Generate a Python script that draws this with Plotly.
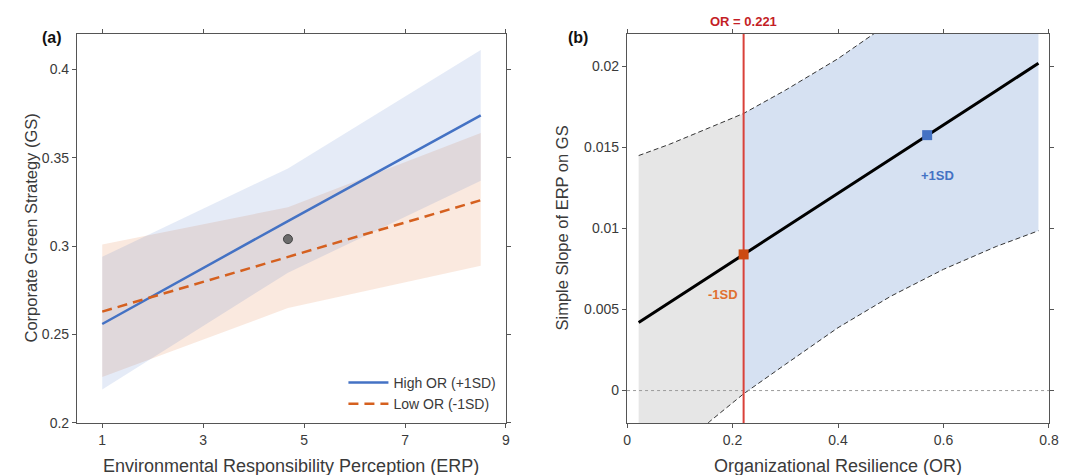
import plotly.graph_objects as go

# ---------------- Panel (a) data ----------------
erp_x = [1, 4.68, 8.5]
high_or_fit = [0.256, 0.3142, 0.374]
high_or_lower = [0.219, 0.285, 0.337]
high_or_upper = [0.294, 0.344, 0.411]
low_or_fit = [0.263, 0.2941, 0.326]
low_or_lower = [0.226, 0.265, 0.289]
low_or_upper = [0.301, 0.322, 0.364]
mean_point_x = [4.68]
mean_point_y = [0.304]
erp_ticks = [1, 3, 5, 7, 9]
gs_ticks = [0.2, 0.25, 0.3, 0.35, 0.4]
gs_ticktext = ["0.2", "0.25", "0.3", "0.35", "0.4"]

# ---------------- Panel (b) data ----------------
or_x = [0.022, 0.08, 0.157, 0.221, 0.30, 0.40, 0.50, 0.60, 0.70, 0.78]
slope = [0.0042, 0.00542, 0.00705, 0.0084, 0.01007, 0.01218, 0.01428, 0.01639, 0.0185, 0.0202]
ci_lower = [-0.0061, -0.00435, -0.0019, -0.0002, 0.00161, 0.00388, 0.00582, 0.00748, 0.00889, 0.00986]
ci_upper = [0.0145, 0.01519, 0.01623, 0.0171, 0.01853, 0.02048, 0.02274, 0.0253, 0.0281, 0.0305]
jn_point = 0.221
sd_points_x = [0.221, 0.569]
sd_points_y = [0.0084, 0.01576]
sd_labels = ["-1SD", "+1SD"]
or_ticks = [0, 0.2, 0.4, 0.6, 0.8]
or_ticktext = ["0", "0.2", "0.4", "0.6", "0.8"]
slope_ticks = [0, 0.005, 0.01, 0.015, 0.02]
slope_ticktext = ["0", "0.005", "0.01", "0.015", "0.02"]

FONT = "Liberation Sans, Arial, sans-serif"
BLUE = "#4472C4"
ORANGE = "#D5601F"
AXC = "#555555"
TXT = "#3a3a3a"

fig = go.Figure()

# --- panel (a) bands ---
fig.add_trace(go.Scatter(x=erp_x + erp_x[::-1], y=low_or_upper + low_or_lower[::-1],
                         fill="toself", fillcolor="rgba(217,96,31,0.14)", line=dict(width=0),
                         mode="lines", showlegend=False, hoverinfo="skip", xaxis="x", yaxis="y"))
fig.add_trace(go.Scatter(x=erp_x + erp_x[::-1], y=high_or_upper + high_or_lower[::-1],
                         fill="toself", fillcolor="rgba(68,114,196,0.14)", line=dict(width=0),
                         mode="lines", showlegend=False, hoverinfo="skip", xaxis="x", yaxis="y"))
fig.add_trace(go.Scatter(x=erp_x, y=high_or_fit, mode="lines", name="High OR (+1SD)",
                         line=dict(color=BLUE, width=2.5), xaxis="x", yaxis="y"))
fig.add_trace(go.Scatter(x=erp_x, y=low_or_fit, mode="lines", name="Low OR (-1SD)",
                         line=dict(color=ORANGE, width=2.5, dash="10px,6px"), xaxis="x", yaxis="y"))
fig.add_trace(go.Scatter(x=mean_point_x, y=mean_point_y, mode="markers", showlegend=False,
                         marker=dict(color="#6b6b6b", size=9, line=dict(color="#444444", width=1)),
                         xaxis="x", yaxis="y"))

# --- panel (b) ---
i_jn = or_x.index(jn_point)
gx = or_x[:i_jn + 1]
bx = or_x[i_jn:]
fig.add_trace(go.Scatter(x=gx + gx[::-1], y=ci_upper[:i_jn + 1] + ci_lower[:i_jn + 1][::-1],
                         fill="toself", fillcolor="#e6e6e6", line=dict(width=0), mode="lines",
                         showlegend=False, hoverinfo="skip", xaxis="x2", yaxis="y2"))
fig.add_trace(go.Scatter(x=bx + bx[::-1], y=ci_upper[i_jn:] + ci_lower[i_jn:][::-1],
                         fill="toself", fillcolor="#d6e1f2", line=dict(width=0), mode="lines",
                         showlegend=False, hoverinfo="skip", xaxis="x2", yaxis="y2"))
fig.add_trace(go.Scatter(x=or_x, y=ci_upper, mode="lines", showlegend=False,
                         line=dict(color="#333333", width=1, dash="5px,3px"), xaxis="x2", yaxis="y2"))
fig.add_trace(go.Scatter(x=or_x, y=ci_lower, mode="lines", showlegend=False,
                         line=dict(color="#333333", width=1, dash="5px,3px"), xaxis="x2", yaxis="y2"))
fig.add_trace(go.Scatter(x=[or_ticks[0], or_ticks[-1]], y=[0, 0], mode="lines", showlegend=False,
                         line=dict(color="#9a9a9a", width=1, dash="dot"), xaxis="x2", yaxis="y2"))
fig.add_trace(go.Scatter(x=[jn_point, jn_point], y=[-0.002, 0.022], mode="lines", showlegend=False,
                         line=dict(color="#D9413A", width=2), xaxis="x2", yaxis="y2"))
fig.add_trace(go.Scatter(x=or_x, y=slope, mode="lines", showlegend=False,
                         line=dict(color="black", width=3), xaxis="x2", yaxis="y2"))
fig.add_trace(go.Scatter(x=sd_points_x, y=sd_points_y, mode="markers", showlegend=False,
                         marker=dict(symbol="square", size=10, color=["#CC4A10", BLUE]),
                         xaxis="x2", yaxis="y2"))

for lx, ly, lab, col in zip(sd_points_x, sd_points_y, sd_labels, ["#E07030", BLUE]):
    dx = -0.04 if lab.startswith("-") else 0.019
    fig.add_annotation(x=lx + dx, y=ly - 0.0025, xref="x2", yref="y2", text="<b>" + lab + "</b>",
                       showarrow=False, font=dict(family=FONT, size=13, color=col))

fig.add_annotation(x=jn_point, y=1.0, xref="x2", yref="y2 domain", yanchor="bottom", yshift=3,
                   text="<b>OR = 0.221</b>", showarrow=False,
                   font=dict(family=FONT, size=13, color="#C41E26"))
fig.add_annotation(x=0.037, y=0.943, xref="paper", yref="paper", text="<b>(a)</b>", showarrow=False,
                   font=dict(family=FONT, size=16, color="#111111"))
fig.add_annotation(x=0.534, y=0.943, xref="paper", yref="paper", text="<b>(b)</b>", showarrow=False,
                   font=dict(family=FONT, size=16, color="#111111"))

# axis titles
XT = dict(family=FONT, size=18, color=TXT)
YT = dict(family=FONT, size=16.5, color=TXT)
fig.add_annotation(x=0.5, y=0.0, xref="x domain", yref="paper", yanchor="bottom", yshift=-3,
                   text="Environmental Responsibility Perception (ERP)", showarrow=False, font=XT)
fig.add_annotation(x=0.5, y=0.0, xref="x2 domain", yref="paper", yanchor="bottom", yshift=-3,
                   text="Organizational Resilience (OR)", showarrow=False, font=XT)
fig.add_annotation(x=20 / 1083, y=0.5, xref="paper", yref="y domain", textangle=-90,
                   text="Corporate Green Strategy (GS)", showarrow=False, font=YT)
fig.add_annotation(x=562 / 1083, y=0.5, xref="paper", yref="y2 domain", textangle=-90,
                   text="Simple Slope of ERP on GS", showarrow=False, font=YT)

axis_common = dict(showline=True, linecolor=AXC, linewidth=1.2, mirror="ticks", ticks="outside",
                   ticklen=4, tickcolor=AXC, showgrid=False, zeroline=False, automargin=False,
                   tickfont=dict(family=FONT, size=14, color=TXT))

fig.update_layout(
    width=1083, height=475,
    margin=dict(l=0, r=0, t=0, b=0, pad=0),
    paper_bgcolor="white", plot_bgcolor="white",
    font=dict(family=FONT, color=TXT),
    xaxis=dict(domain=[0.0711, 0.4672], range=[0.5, 9], tickvals=erp_ticks, anchor="y",
               **axis_common),
    yaxis=dict(domain=[0.1095, 0.9284], range=[0.2, 0.42], tickvals=gs_ticks,
               ticktext=gs_ticktext, anchor="x", **axis_common),
    xaxis2=dict(domain=[0.579, 0.9686], range=[0, 0.8], tickvals=or_ticks,
                ticktext=or_ticktext, anchor="y2", **axis_common),
    yaxis2=dict(domain=[0.1095, 0.9284], range=[-0.002, 0.022], tickvals=slope_ticks,
                ticktext=slope_ticktext, anchor="x2", **axis_common),
    legend=dict(x=0.463, y=1 - 367 / 475, xanchor="right", yanchor="top", bgcolor="rgba(0,0,0,0)",
                font=dict(family=FONT, size=14, color=TXT), tracegroupgap=0, itemwidth=40),
)

fig.write_html("out.html", config={"displayModeBar": False},
               post_script="document.body.style.margin='0';")
